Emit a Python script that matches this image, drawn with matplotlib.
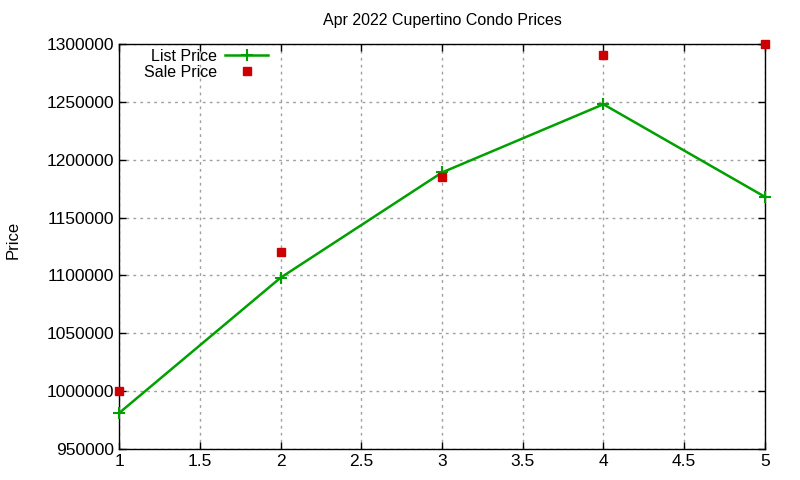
import matplotlib
matplotlib.use('Agg')
import matplotlib.pyplot as plt

plt.rcParams['font.family'] = ['Liberation Sans', 'DejaVu Sans']

months = [1, 2, 3, 4, 5]
list_price = [981000, 1098000, 1189000, 1248000, 1168000]
sale_price = [1000000, 1120000, 1185000, 1291000, 1300000]

yticks = [950000, 1000000, 1050000, 1100000, 1150000, 1200000, 1250000, 1300000]
xticks = [1, 1.5, 2, 2.5, 3, 3.5, 4, 4.5, 5]

fig = plt.figure(figsize=(8, 4.8), dpi=100)
ax = fig.add_axes([0.149, 0.065, 0.807, 0.843])

ax.plot(months, list_price, color='#00a000', lw=1.8, marker='+', ms=8, mew=1.5,
        label='List Price', clip_on=False, zorder=3)
ax.plot(months, sale_price, ls='none', color='#cc0000', marker='s', ms=6,
        label='Sale Price', clip_on=False, zorder=4)

ax.set_xlim(1, 5)
ax.set_ylim(950000, 1300000)
ax.set_xticks(xticks)
ax.set_xticklabels(['1', '1.5', '2', '2.5', '3', '3.5', '4', '4.5', '5'])
ax.set_yticks(yticks)
ax.set_yticklabels([str(v) for v in yticks])
ax.tick_params(direction='in', top=True, right=True, labelsize=12.5, length=5, width=1)
ax.grid(True, color='#a0a0a0', ls=(0, (2, 3)), lw=1)
for s in ax.spines.values():
    s.set_linewidth(1)

ax.set_title('Apr 2022 Cupertino Condo Prices', fontsize=11.5, pad=14)
fig.text(0.016, 0.5, 'Price', rotation=90, va='center', ha='center', fontsize=12)

leg = ax.legend(loc='upper left', bbox_to_anchor=(0.021, 1.016), frameon=False,
                markerfirst=False, fontsize=11.5, handlelength=2.7,
                handletextpad=0.5, labelspacing=0.05, borderaxespad=0.3)
for t in leg.get_texts():
    t.set_ha('right')

fig.savefig('out.png', dpi=100)
